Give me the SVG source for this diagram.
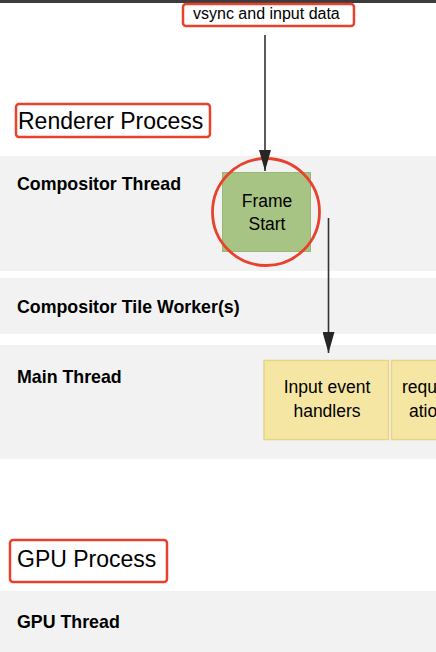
<svg xmlns="http://www.w3.org/2000/svg" width="436" height="652" viewBox="0 0 436 652">
<style>
.lane{fill:#f2f2f2;}
.lbl{font-family:"Liberation Sans",Arial,sans-serif;font-weight:bold;font-size:17.8px;fill:#000;}
.txt{font-family:"Liberation Sans",Arial,sans-serif;fill:#000;}
.hl{fill:#fff;stroke:#e8412c;stroke-width:2.5;}
.conn{stroke:#333;stroke-width:1.6;fill:none;}
.green{fill:#a8c484;stroke:#97b874;stroke-width:1;}
.yellow{fill:#f5e6a4;stroke:#e8d583;stroke-width:1.5;}
</style>
<defs>
<marker id="arr" markerUnits="userSpaceOnUse" markerWidth="22" markerHeight="12" refX="21" refY="6" orient="auto" viewBox="0 0 22 12">
<path d="M0,0 L21,6 L0,12 Z" fill="#262626"/>
</marker>
</defs>
<rect x="0" y="0" width="436" height="3" fill="#3c3c3c"/>
<g id="lanes">
<g id="lane-compositor"><rect class="lane" x="0" y="156" width="436" height="115"/><text class="lbl" x="17" y="190">Compositor Thread</text></g>
<g id="lane-tile"><rect class="lane" x="0" y="278" width="436" height="56"/><text class="lbl" x="17" y="313">Compositor Tile Worker(s)</text></g>
<g id="lane-main"><rect class="lane" x="0" y="345" width="436" height="114"/><text class="lbl" x="17" y="383">Main Thread</text></g>
<g id="lane-gpu"><rect class="lane" x="0" y="591" width="436" height="61"/><text class="lbl" x="17" y="628">GPU Thread</text></g>
</g>
<g id="vsync"><rect class="hl" x="183" y="4" width="171" height="22" rx="3"/><text class="txt" x="193" y="18.5" font-size="16">vsync and input data</text></g>
<g id="renderer-process"><rect class="hl" x="16" y="104" width="194" height="33" rx="3"/><text class="txt" x="18" y="128.5" font-size="23">Renderer Process</text></g>
<g id="gpu-process"><rect class="hl" x="10" y="540" width="157" height="42" rx="3"/><text class="txt" x="17" y="567" font-size="23">GPU Process</text></g>
<g id="frame-start">
<rect class="green" x="222.5" y="172.5" width="88" height="79"/>
<text class="txt" font-size="17.5" text-anchor="middle" x="267" y="207">Frame</text>
<text class="txt" font-size="17.5" text-anchor="middle" x="267" y="230">Start</text>
<circle cx="266" cy="212" r="53.5" fill="none" stroke="#e8412c" stroke-width="2.8"/>
</g>
<g id="input-handlers">
<rect class="yellow" x="264" y="360.5" width="124.5" height="79"/>
<text class="txt" font-size="17.5" text-anchor="middle" x="327" y="393">Input event</text>
<text class="txt" font-size="17.5" text-anchor="middle" x="327" y="417">handlers</text>
</g>
<g id="raf">
<rect class="yellow" x="391.5" y="360.5" width="60" height="79"/>
<text class="txt" font-size="17.5" x="402" y="393">requ</text>
<text class="txt" font-size="17.5" x="409" y="417">atio</text>
</g>
<g id="connectors">
<line class="conn" x1="265" y1="35" x2="265" y2="171" marker-end="url(#arr)"/>
<line class="conn" x1="328.5" y1="218" x2="328.5" y2="353" marker-end="url(#arr)"/>
</g>
</svg>
